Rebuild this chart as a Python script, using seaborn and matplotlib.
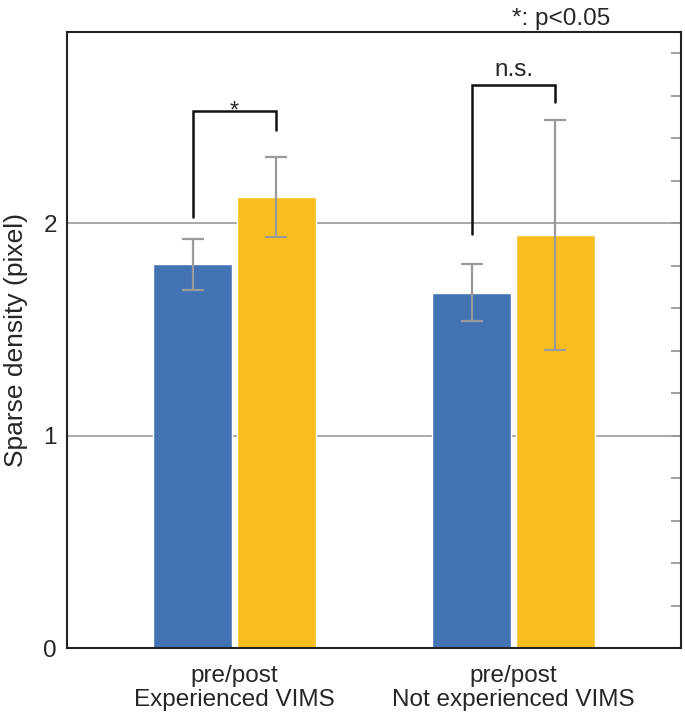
import matplotlib
matplotlib.use("Agg")
import matplotlib.pyplot as plt
import numpy as np
import pandas as pd
import seaborn as sns
from matplotlib.ticker import MultipleLocator

# Data
groups = ["pre/post\nExperienced VIMS", "pre/post\nNot experienced VIMS"]
phases = ["pre", "post"]
means_pre = [1.807, 1.672]
means_post = [2.124, 1.945]
err_pre = [0.120, 0.134]
err_post = [0.188, 0.540]

# significance brackets: left leg bottom, top, right leg bottom, label
bracket_left = [2.03, 1.95]
bracket_top = [2.53, 2.65]
bracket_right = [2.44, 2.57]
bracket_text = ["*", "n.s."]

df = pd.DataFrame({
    "group": groups * 2,
    "phase": ["pre"] * 2 + ["post"] * 2,
    "mean": means_pre + means_post,
    "err": err_pre + err_post,
})

blue = "#4473B5"
yellow = "#F8BE1F"

sns.set_style("white")
plt.rcParams["font.family"] = ["Liberation Sans", "DejaVu Sans"]

fig = plt.figure(figsize=(6.85, 7.19), dpi=100)
ax = fig.add_axes([0.0978, 0.0987, 0.8963, 0.8568])

sns.barplot(data=df, x="group", y="mean", hue="phase", hue_order=phases,
            palette=[blue, yellow], width=0.6, gap=0.06, errorbar=None,
            legend=False, saturation=1, ax=ax)

# bars above the grey grid lines
for p in ax.patches:
    p.set_zorder(2)
for yv in [1, 2]:
    ax.axhline(yv, color="#999999", lw=1.2, zorder=0.5)

# error bars, using the bar positions that seaborn produced
centers = {}
for phase, cont in zip(phases, ax.containers):
    sub = df[df["phase"] == phase]
    for bar, (_, row) in zip(cont, sub.iterrows()):
        xc = bar.get_x() + bar.get_width() / 2
        centers[(phase, row["group"])] = xc
        ax.errorbar(xc, row["mean"], yerr=row["err"], color="#9a9a9a",
                    capsize=8, capthick=1.6, elinewidth=1.6, zorder=3)

# significance brackets
for i, g in enumerate(groups):
    x0 = centers[("pre", g)]
    x1 = centers[("post", g)]
    ax.plot([x0, x0, x1, x1],
            [bracket_left[i], bracket_top[i], bracket_top[i], bracket_right[i]],
            color="#111111", lw=1.8, zorder=4, solid_joinstyle="miter")
    if bracket_text[i] == "*":
        ax.text((x0 + x1) / 2, bracket_top[i] - 0.035, bracket_text[i],
                ha="center", va="baseline", fontsize=17)
    else:
        ax.text((x0 + x1) / 2, bracket_top[i] + 0.02, bracket_text[i],
                ha="center", va="bottom", fontsize=17.5)

ax.text(0.805, 1.003, "*: p<0.05", transform=ax.transAxes, ha="center",
        va="bottom", fontsize=17.5)

ax.set_xlim(-0.6, 1.6)
ax.set_ylim(0, 2.9)
ax.set_xlabel("")
ax.set_ylabel("Sparse density (pixel)", fontsize=19, labelpad=11)
ax.set_yticks([0, 1, 2])
ax.yaxis.set_minor_locator(MultipleLocator(0.2))
ax.tick_params(axis="y", which="major", direction="in", length=11, width=1.5,
               color="#222222", labelsize=17.5, pad=7.2)
ax.tick_params(axis="y", which="minor", direction="in", length=7, width=1.5,
               color="#222222")
ax.tick_params(axis="x", length=0, labelsize=17.5, pad=12)
for lbl in ax.get_xticklabels():
    lbl.set_linespacing(1.15)

for s in ax.spines.values():
    s.set_visible(True)
    s.set_color("#222222")
    s.set_linewidth(1.5)

# grey ticks on the right spine
sec = ax.secondary_yaxis("right")
sec.set_yticks(np.arange(0.2, 2.85, 0.2))
sec.tick_params(direction="in", length=7, width=1.3, color="#999999",
                labelright=False)
sec.spines["right"].set_visible(False)

fig.savefig("out.png", dpi=100)
